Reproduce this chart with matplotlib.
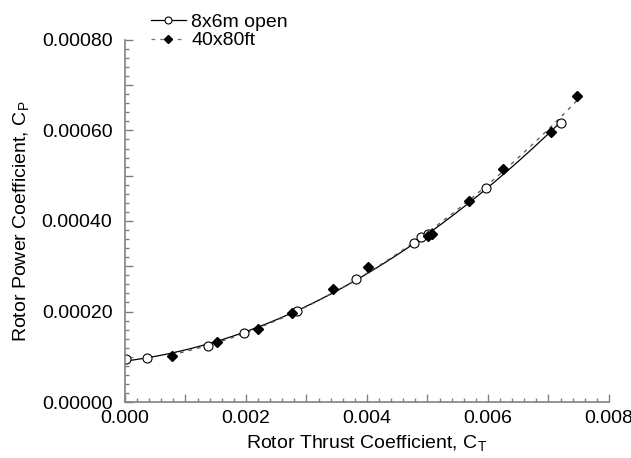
import matplotlib
matplotlib.use("Agg")
import matplotlib.pyplot as plt
import numpy as np
from matplotlib.ticker import MultipleLocator, FuncFormatter

plt.rcParams['font.family'] = ['Liberation Sans', 'DejaVu Sans']
plt.rcParams['mathtext.fontset'] = 'custom'
plt.rcParams['mathtext.rm'] = 'Liberation Sans'
plt.rcParams['mathtext.default'] = 'regular'

# 8x6m open-jet data
ct_open = [0.00002, 0.00036, 0.00137, 0.00197, 0.00285, 0.00382,
           0.00478, 0.00490, 0.00501, 0.00597, 0.00720]
cp_open = [0.000095, 0.000097, 0.000124, 0.000153, 0.000201, 0.000271,
           0.000351, 0.000365, 0.000371, 0.000472, 0.000616]

# 40x80ft data
ct_nfac = [0.00077, 0.00153, 0.00220, 0.00276, 0.00344, 0.00401,
           0.00501, 0.00507, 0.00569, 0.00625, 0.00704, 0.00747]
cp_nfac = [0.000102, 0.000132, 0.000161, 0.000196, 0.000249, 0.000298,
           0.000367, 0.000371, 0.000444, 0.000515, 0.000596, 0.000677]

fig = plt.figure(figsize=(6.31, 4.58), dpi=100)
ax = fig.add_axes([0.198, 0.122, 0.767, 0.791])

# quadratic curve fits through each data set
p1 = np.polyfit(ct_open, cp_open, 2)
xs1 = np.linspace(0.0, max(ct_open), 200)
p2 = np.polyfit(ct_nfac, cp_nfac, 2)
xs2 = np.linspace(min(ct_nfac), max(ct_nfac), 200)

ax.plot(xs1, np.polyval(p1, xs1), color='black', lw=0.9)
ax.plot(xs2, np.polyval(p2, xs2), color='#555555', lw=0.9, dashes=(3, 4))
ax.plot(ct_open, cp_open, 'o', mfc='white', mec='black', ms=6.5, mew=0.8)
ax.plot(ct_nfac, cp_nfac, 'D', color='black', ms=5.5)

# legend handles
h1, = ax.plot([], [], '-o', color='black', mfc='white', ms=5, lw=0.9, mew=0.8)
h2, = ax.plot([], [], color='#777777', lw=0.9, dashes=(3, 4), marker='D',
              mfc='black', mec='black', ms=4)
fig.legend([h1, h2], ['8x6m open', '40x80ft'], loc='upper left',
           bbox_to_anchor=(0.214, 1.005), frameon=False, fontsize=14,
           handlelength=1.8, handletextpad=0.3, labelspacing=0.05,
           borderpad=0.3)

ax.set_xlim(0, 0.008)
ax.set_ylim(0, 0.0008)
ax.xaxis.set_major_locator(MultipleLocator(0.001))
ax.xaxis.set_minor_locator(MultipleLocator(0.0002))
ax.yaxis.set_major_locator(MultipleLocator(0.0001))
ax.yaxis.set_minor_locator(MultipleLocator(0.00002))
ax.xaxis.set_major_formatter(FuncFormatter(
    lambda v, p: '%.3f' % v if round(v / 0.001) % 2 == 0 else ''))
ax.yaxis.set_major_formatter(FuncFormatter(
    lambda v, p: '%.5f' % v if round(v / 0.0001) % 2 == 0 else ''))

for s in ['top', 'right']:
    ax.spines[s].set_visible(False)
for s in ['left', 'bottom']:
    ax.spines[s].set_color('#808080')
    ax.spines[s].set_linewidth(1.2)

ax.tick_params(which='major', direction='in', length=6, width=1,
               color='#808080', labelsize=14)
ax.tick_params(axis='x', which='major', pad=6)
ax.tick_params(axis='y', which='major', pad=9)
ax.tick_params(which='minor', direction='in', length=3, width=1,
               color='#808080')

ax.set_xlabel('Rotor Thrust Coefficient, C$_T$', fontsize=14, labelpad=4)
ax.set_ylabel('Rotor Power Coefficient, C$_P$', fontsize=14, labelpad=8)

fig.savefig('out.png', dpi=100)
